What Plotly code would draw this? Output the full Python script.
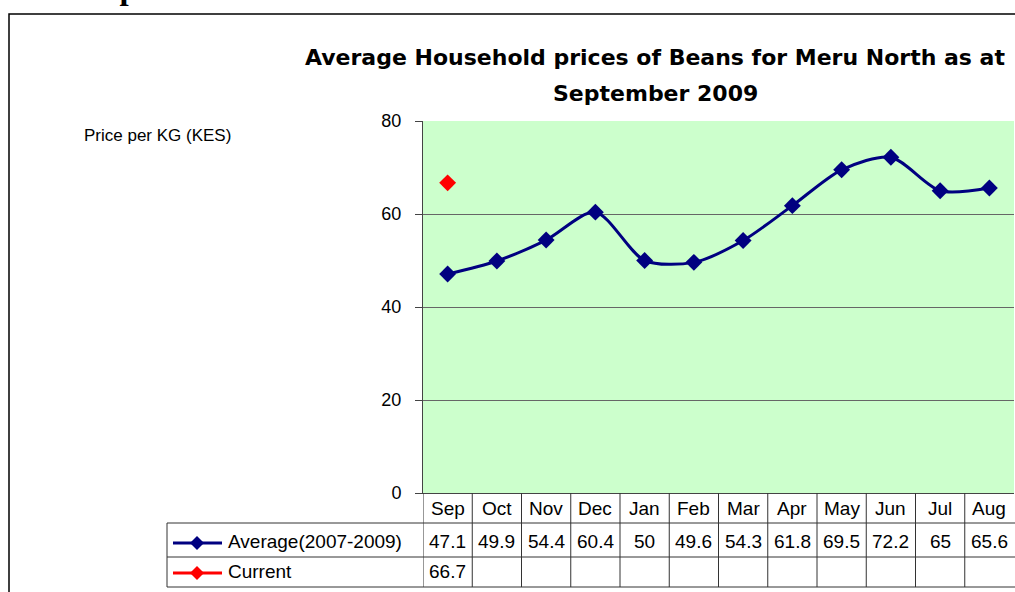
import plotly.graph_objects as go

months = ["Sep", "Oct", "Nov", "Dec", "Jan", "Feb", "Mar", "Apr", "May", "Jun", "Jul", "Aug"]
average = [47.1, 49.9, 54.4, 60.4, 50, 49.6, 54.3, 61.8, 69.5, 72.2, 65, 65.6]
current = [66.7, None, None, None, None, None, None, None, None, None, None, None]
series_names = ["Average(2007-2009)", "Current"]
series_colors = ["#000080", "#FF0000"]
y_ticks = [0, 20, 40, 60, 80]

W, H = 1015, 592
L, R, T, B = 423, 1014, 121, 493  # plot area in pixels


def px(x):
    return (x - L) / (R - L)


def py(y):
    return (B - y) / (B - T)


FONT = "Liberation Sans"
fig = go.Figure()
x_idx = list(range(len(months)))
fig.add_trace(go.Scatter(
    x=x_idx, y=average, mode="lines+markers", name=series_names[0],
    line=dict(color=series_colors[0], width=3, shape="spline", smoothing=0.8),
    marker=dict(symbol="diamond", size=13, color=series_colors[0]),
    showlegend=False, cliponaxis=False))
fig.add_trace(go.Scatter(
    x=x_idx, y=current, mode="lines+markers", name=series_names[1],
    line=dict(color=series_colors[1], width=3),
    marker=dict(symbol="diamond", size=13, color=series_colors[1]),
    showlegend=False))

shapes = []
ann = []
line_col = "#333333"

# outer chart border
shapes.append(dict(type="rect", xref="paper", yref="paper", x0=px(9), x1=px(1100),
                   y0=py(14), y1=py(700), line=dict(color="black", width=1.5)))

# table grid
for yy in [523, 557, 587]:
    shapes.append(dict(type="line", xref="paper", yref="paper", x0=px(167), x1=px(1016),
                       y0=py(yy), y1=py(yy), line=dict(color=line_col, width=1)))
shapes.append(dict(type="line", xref="paper", yref="paper", x0=px(167), x1=px(167),
                   y0=py(523), y1=py(587), line=dict(color=line_col, width=1)))
for i in range(len(months)):
    shapes.append(dict(type="line", xref="x", yref="paper", x0=i - 0.5, x1=i - 0.5,
                       y0=py(493), y1=py(587), line=dict(color=line_col, width=1)))

TF = dict(family=FONT, size=19, color="black")
# header labels
for i, m in enumerate(months):
    ann.append(dict(x=i, y=py(508), xref="x", yref="paper", text=m, showarrow=False,
                    xanchor="center", yanchor="middle", font=TF))
# values rows
row_y = [541, 571]
for s, vals in enumerate([average, current]):
    for i, v in enumerate(vals):
        if v is None:
            continue
        ann.append(dict(x=i, y=py(row_y[s]), xref="x", yref="paper", text=f"{v:g}",
                        xanchor="center", yanchor="middle", showarrow=False, font=TF))
    # legend key
    ky = row_y[s] + 2
    shapes.append(dict(type="line", xref="paper", yref="paper", x0=px(173), x1=px(222),
                       y0=py(ky), y1=py(ky), line=dict(color=series_colors[s], width=3)))
    cx, r = 197, 7
    shapes.append(dict(type="path", xref="paper", yref="paper",
                       path=f"M {px(cx - r)} {py(ky)} L {px(cx)} {py(ky - r)} L {px(cx + r)} {py(ky)} L {px(cx)} {py(ky + r)} Z",
                       fillcolor=series_colors[s], line=dict(color=series_colors[s], width=0)))
    ann.append(dict(x=px(226), y=py(row_y[s]), xref="paper", yref="paper", text=series_names[s],
                    xanchor="left", yanchor="middle", showarrow=False, font=TF))

# titles
TTF = dict(family="DejaVu Sans", size=22, color="black")
ann.append(dict(x=px(655), y=py(58), xref="paper", yref="paper",
                text="<b>Average Household prices of Beans for Meru North as at</b>",
                xanchor="center", yanchor="middle", showarrow=False, font=TTF))
ann.append(dict(x=px(655), y=py(93), xref="paper", yref="paper",
                text="<b>September 2009</b>",
                xanchor="center", yanchor="middle", showarrow=False, font=TTF))
ann.append(dict(x=px(82), y=py(135), xref="paper", yref="paper", text="Price per KG (KES)",
                xanchor="left", yanchor="middle", showarrow=False,
                font=dict(family=FONT, size=17, color="black")))
# heading of the page, cut off at the top edge as in the original
ann.append(dict(x=px(206), y=py(8), xref="paper", yref="paper", text="<b>Beans prices</b>",
                xanchor="right", yanchor="bottom", showarrow=False,
                font=dict(family="Liberation Serif", size=33, color="black")))

fig.update_layout(
    width=W, height=H,
    margin=dict(l=L, r=W - R, t=T, b=H - B, pad=0),
    paper_bgcolor="white", plot_bgcolor="#CCFFCC",
    shapes=shapes, annotations=ann,
    xaxis=dict(range=[-0.5, len(months) - 0.5], showticklabels=False, showgrid=False,
               zeroline=False, showline=True, linecolor="#444444", linewidth=1, ticks=""),
    yaxis=dict(range=[0, 80], tickvals=y_ticks, showgrid=True, gridcolor="#666666", gridwidth=1,
               zeroline=False, showline=True, linecolor="#444444", linewidth=1,
               ticks="outside", ticklen=7, tickcolor="#444444",
               tickfont=dict(family=FONT, size=18, color="black"), ticklabelstandoff=10),
)
fig.write_html("out.html", config={"displayModeBar": False},
               post_script="document.body.style.margin='0';")
